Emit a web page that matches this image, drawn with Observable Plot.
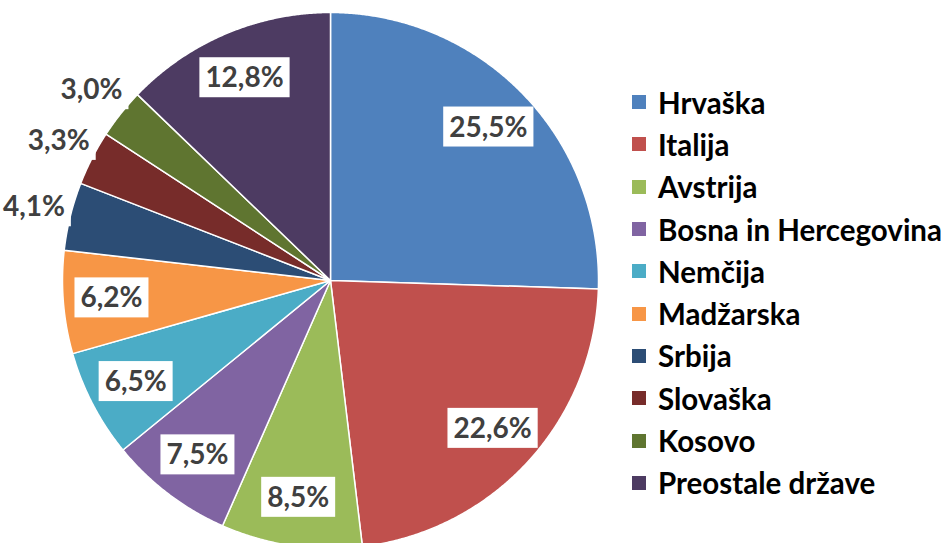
<!DOCTYPE html>
<html>
<head>
<meta charset="utf-8">
<script src="https://cdn.jsdelivr.net/npm/d3@7"></script>
<script src="https://cdn.jsdelivr.net/npm/@observablehq/plot@0.6"></script>
<style>
  html, body { margin: 0; padding: 0; background: #fff; }
  #wrap { position: relative; width: 951px; height: 543px; overflow: hidden; background: #fff; }
  #wrap svg { position: absolute; left: 0; top: 0; }
  #legend { position: absolute; left: 632px; top: 81px; font-family: Lato, "Open Sans", sans-serif; font-weight: 700; font-size: 29.5px; color: #000; }
  .row { display: flex; align-items: center; height: 42.3px; white-space: nowrap; }
  .sw { width: 14px; height: 14px; margin-right: 12px; flex: none; }
</style>
</head>
<body>
<div id="wrap"><div id="legend"></div></div>
<script>
const categories = ["Hrvaška", "Italija", "Avstrija", "Bosna in Hercegovina", "Nemčija", "Madžarska", "Srbija", "Slovaška", "Kosovo", "Preostale države"];
const shares = [25.5, 22.6, 8.5, 7.5, 6.5, 6.2, 4.1, 3.3, 3.0, 12.8];
const labels = ["25,5%", "22,6%", "8,5%", "7,5%", "6,5%", "6,2%", "4,1%", "3,3%", "3,0%", "12,8%"];
const colors = ["#4F81BD", "#C0504D", "#9BBB59", "#8064A2", "#4BACC6", "#F79646", "#2C4D75", "#772C2A", "#5F7530", "#4D3B62"];

const total = d3.sum(shares);
const slicePts = [];
const labelPts = [];
let cum = 0;
categories.forEach((name, i) => {
  const a0 = cum / total * 2 * Math.PI;
  cum += shares[i];
  const a1 = cum / total * 2 * Math.PI;
  const n = Math.max(2, Math.ceil((a1 - a0) / 0.005));
  slicePts.push({name, x: 0, y: 0});
  for (let k = 0; k <= n; k++) {
    const a = a0 + (a1 - a0) * k / n;
    slicePts.push({name, x: Math.sin(a), y: Math.cos(a)});
  }
  slicePts.push({name, x: 0, y: 0});
  const am = (a0 + a1) / 2;
  const r = shares[i] < 5 ? 1.14 : 0.82;
  labelPts.push({name, text: labels[i], x: r * Math.sin(am), y: r * Math.cos(am)});
});

const chart = Plot.plot({
  width: 951,
  height: 543,
  margin: 0,
  style: {background: "transparent", overflow: "visible"},
  x: {domain: [-1, 1], range: [62, 598], axis: null},
  y: {domain: [-1, 1], range: [548, 12], axis: null},
  color: {domain: categories, range: colors},
  marks: [
    Plot.line(slicePts, {x: "x", y: "y", z: "name", fill: "name", stroke: "white", strokeWidth: 1.5, strokeLinejoin: "round"}),
    Plot.text(labelPts, {x: "x", y: "y", text: "text", fill: "#404040", fontSize: 28, fontWeight: 700, fontFamily: "Lato, 'Open Sans', sans-serif"})
  ]
});

const wrap = document.getElementById("wrap");
wrap.insertBefore(chart, wrap.firstChild);

// white boxes behind percentage labels
const texts = Array.from(chart.querySelectorAll("text")).filter(t => labels.includes(t.textContent));
texts.forEach(t => {
  const bb = t.getBBox();
  const cy = bb.y + bb.height / 2;
  const h = 40;
  const rect = document.createElementNS("http://www.w3.org/2000/svg", "rect");
  rect.setAttribute("x", bb.x - 6);
  rect.setAttribute("y", cy - h / 2 + 1);
  rect.setAttribute("width", bb.width + 12);
  rect.setAttribute("height", h);
  rect.setAttribute("fill", "white");
  const tr = t.getAttribute("transform");
  if (tr) rect.setAttribute("transform", tr);
  t.parentNode.insertBefore(rect, t);
});

// legend
const color = chart.scale("color");
const legend = d3.select("#legend");
categories.forEach(c => {
  const row = legend.append("div").attr("class", "row");
  row.append("div").attr("class", "sw").style("background", color.apply(c));
  row.append("span").text(c);
});
</script>
</body>
</html>
